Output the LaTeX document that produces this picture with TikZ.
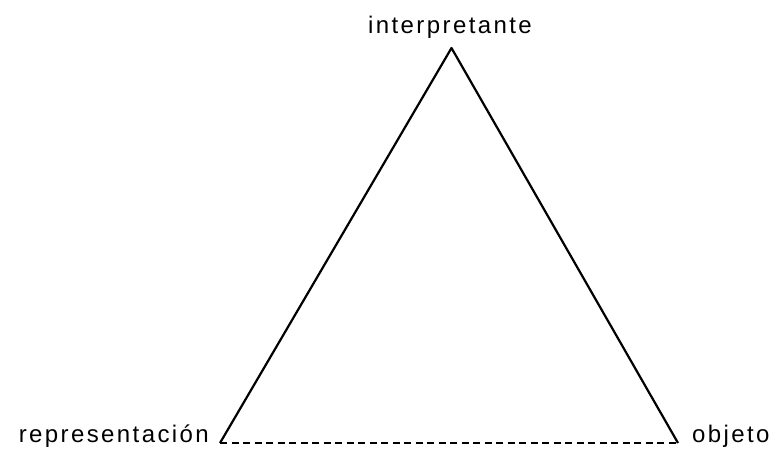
\documentclass[tikz,border=0pt]{standalone}
\usepackage{fontspec}
\newfontfamily\lblfont[LetterSpace=10]{Liberation Sans}
\begin{document}
\begin{tikzpicture}[x=1pt,y=-1pt,
  lbl/.style={font=\lblfont\fontsize{24}{26}\selectfont, inner sep=0pt},
  side/.style={line width=2.2pt, line join=round},
  base/.style={line width=2pt, dash pattern=on 7pt off 4.5pt}]
\useasboundingbox (0,0) rectangle (771,450);
\coordinate (top) at (451.5,48);
\coordinate (left) at (220,443);
\coordinate (right) at (678,443);
\draw[side] (left) -- (top) -- (right);
\draw[base] (left) -- (right);
\node[lbl, anchor=base] (interp) at (450,33) {interpretante};
\node[lbl, anchor=base east] (repr) at (209,442) {representación};
\node[lbl, anchor=base west] (obj) at (692,442) {objeto};
\end{tikzpicture}
\end{document}
